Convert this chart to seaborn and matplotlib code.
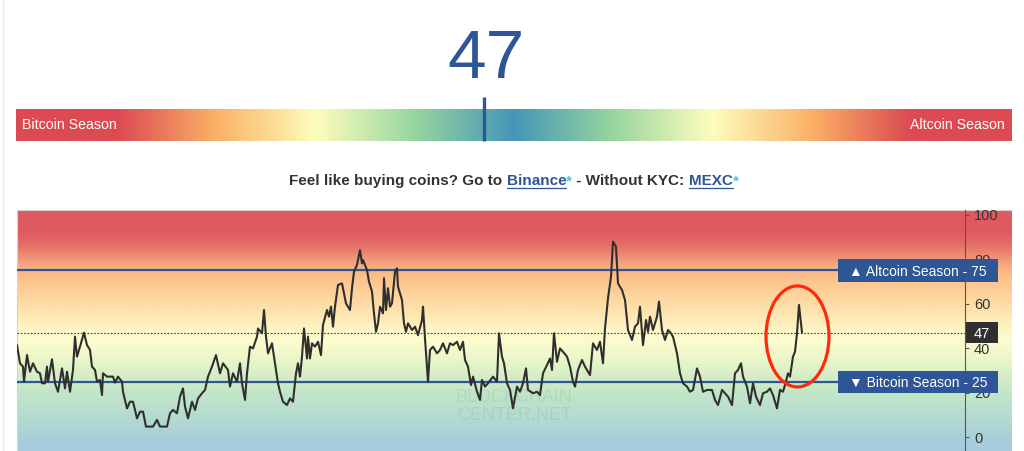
import numpy as np
import pandas as pd
import matplotlib
matplotlib.use("Agg")
import matplotlib.pyplot as plt
import seaborn as sns
from matplotlib.colors import to_rgb, LinearSegmentedColormap
from matplotlib.patches import Ellipse, Rectangle
from matplotlib.lines import Line2D
import matplotlib.transforms as mtransforms

# ---------------- data ----------------
days = [0, 3, 6, 7, 10, 13, 16, 20, 23, 25, 28, 30, 31, 35, 38, 41, 45, 48, 50, 53,
        56, 58, 60, 63, 67, 70, 73, 75, 78, 80, 83, 85, 86, 90, 96, 98, 101, 105, 106, 110,
        113, 116, 120, 123, 126, 129, 136, 140, 143, 150, 153, 156, 160, 163, 166, 168, 171, 175, 178, 181,
        185, 188, 191, 195, 199, 203, 206, 211, 213, 216, 220, 223, 225, 228, 230, 233, 236, 240, 241, 245,
        247, 249, 251, 255, 256, 258, 261, 263, 266, 270, 273, 276, 279, 281, 283, 285, 287, 290, 291, 293,
        295, 298, 301, 304, 306, 310, 312, 314, 316, 318, 321, 325, 326, 329, 333, 335, 337, 340, 343, 345,
        346, 350, 352, 355, 357, 359, 361, 363, 366, 367, 369, 371, 373, 375, 378, 380, 381, 385, 387, 389,
        391, 395, 398, 401, 405, 406, 408, 411, 413, 416, 420, 423, 426, 430, 433, 436, 440, 443, 446, 448,
        451, 454, 456, 460, 463, 465, 468, 471, 476, 480, 482, 485, 487, 490, 493, 496, 500, 503, 506, 509,
        511, 516, 520, 523, 526, 530, 533, 535, 537, 540, 543, 546, 550, 553, 556, 558, 561, 565, 568, 571,
        573, 576, 580, 583, 586, 588, 591, 594, 596, 599, 601, 605, 608, 610, 611, 615, 618, 621, 623, 626,
        629, 631, 633, 636, 640, 642, 645, 648, 651, 654, 656, 660, 663, 666, 670, 673, 676, 680, 683, 686,
        690, 695, 698, 701, 705, 708, 711, 715, 718, 721, 724, 726, 730, 733, 736, 739, 743, 746, 750, 753,
        756, 760, 763, 766, 768, 771, 773, 776, 778, 780, 782, 784, 785]
index_values = [41.4, 33.2, 31.7, 24.9, 36.9, 29.4, 33.2, 29.4, 28.7, 24.2, 24.2, 31.7, 24.9, 35.0, 24.2, 20.4, 30.9, 21.9, 29.4, 20.4,
                30.2, 45.2, 36.2, 40.7, 47.0, 41.4, 39.2, 31.7, 30.2, 24.9, 25.7, 18.9, 28.7, 27.2, 27.2, 24.5, 27.2, 24.9, 20.4, 12.9,
                15.9, 15.9, 8.4, 11.4, 11.4, 4.7, 4.7, 7.7, 4.7, 4.7, 10.7, 12.2, 10.7, 18.2, 21.9, 13.7, 8.4, 15.9, 12.2, 17.4,
                19.7, 21.2, 27.2, 31.7, 36.9, 28.7, 33.2, 30.2, 22.7, 28.7, 24.9, 33.2, 24.2, 16.7, 28.7, 40.7, 39.9, 45.2, 48.9, 46.7,
                57.2, 45.2, 37.7, 42.2, 39.2, 33.2, 24.2, 20.4, 15.9, 14.4, 17.4, 15.9, 28.7, 33.2, 27.2, 36.2, 48.9, 35.4, 45.2, 35.4,
                42.2, 40.7, 42.9, 36.9, 50.5, 57.2, 54.2, 58.7, 49.7, 58.7, 68.5, 69.2, 67.0, 60.2, 57.2, 67.0, 74.5, 77.5, 84.2, 78.2,
                79.7, 75.2, 70.0, 65.5, 55.7, 47.4, 51.2, 58.7, 55.7, 71.5, 57.2, 67.0, 58.7, 60.2, 74.5, 76.0, 67.7, 61.7, 51.2, 47.4,
                51.2, 48.2, 49.7, 45.9, 52.7, 58.7, 44.4, 24.9, 39.2, 40.7, 37.7, 39.2, 42.2, 37.7, 42.2, 41.4, 42.9, 39.2, 42.9, 34.7,
                31.7, 23.4, 27.2, 20.4, 16.7, 25.7, 22.7, 24.2, 27.2, 24.9, 46.7, 36.2, 33.2, 24.2, 21.2, 12.9, 22.7, 20.4, 24.2, 30.9,
                21.2, 19.7, 20.4, 18.9, 28.7, 32.4, 35.4, 30.2, 46.7, 33.9, 39.9, 38.4, 36.2, 31.7, 24.9, 22.7, 30.2, 34.7, 31.7, 29.4,
                27.9, 42.2, 39.2, 42.9, 33.2, 48.9, 62.5, 72.2, 88.0, 85.7, 69.2, 66.2, 61.7, 52.7, 48.2, 43.7, 49.7, 51.2, 58.7, 41.4,
                52.7, 47.4, 54.2, 48.2, 54.2, 61.0, 48.2, 43.7, 48.2, 46.7, 45.2, 37.7, 28.7, 24.2, 22.7, 20.4, 21.2, 30.9, 27.2, 20.4,
                21.2, 21.2, 16.7, 14.4, 21.2, 19.7, 18.2, 14.4, 28.7, 30.2, 33.2, 27.2, 22.7, 15.2, 24.2, 18.2, 14.4, 19.7, 20.4, 21.9,
                18.9, 12.9, 21.2, 20.4, 23.4, 28.7, 27.2, 36.2, 38.4, 46.7, 59.5, 51.2, 47.0]
current_value = 47
altcoin_threshold = 75
bitcoin_threshold = 25
y_ticks = [0, 20, 40, 60, 80, 100]
scale_labels = ["Bitcoin Season", "Altcoin Season"]
headline_parts = ["Feel like buying coins? Go to ", "Binance", "*", " - Without KYC: ", "MEXC", "*"]
watermark_lines = ["BLOCKCHAIN", "CENTER.NET"]

# ---------------- style ----------------
sns.set_theme(style="white")
plt.rcParams["font.family"] = ["Liberation Sans", "DejaVu Sans"]

BLUE = "#2E5596"
DARK = "#333333"
LIGHTBLUE = "#5BC0DE"

W, H = 1024, 451
fig = plt.figure(figsize=(W / 100, H / 100), dpi=100)
fig.patch.set_facecolor("white")


def fr(x0, y0, x1, y1):
    return [x0 / W, 1 - y1 / H, (x1 - x0) / W, (y1 - y0) / H]


# page border line
fig.add_artist(Line2D([3 / W, 3 / W], [0, 1], color="#ECECEC", lw=1))

# ---------------- big number ----------------
fig.text(486 / W, 1 - 78 / H, str(current_value), ha="center", va="baseline",
         fontsize=50, color=BLUE, family=["Liberation Sans Narrow", "Liberation Sans"])

# ---------------- top scale bar ----------------
axb = fig.add_axes(fr(16, 109, 1012, 141))
stops = [(0.0, "#DC4A52"), (0.1, "#DC4A52"), (0.2, "#FBB266"), (0.3, "#FDFDBD"),
         (0.4, "#97D59F"), (0.5, "#4596B8"), (0.6, "#97D59F"), (0.7, "#FDFDBD"),
         (0.8, "#FBB266"), (0.9, "#DC4A52"), (1.0, "#DC4A52")]
bar_cmap = LinearSegmentedColormap.from_list("bar", stops)
axb.imshow(np.linspace(0, 1, 600)[None, :], aspect="auto", cmap=bar_cmap,
           extent=[0, 100, 0, 1])
axb.set_xlim(0, 100)
axb.set_ylim(0, 1)
axb.axis("off")
axb.plot([current_value, current_value], [0, 1.36], color=BLUE, lw=2.4,
         clip_on=False, solid_capstyle="butt")
axb.text(0.65, 0.5, scale_labels[0], color="white", fontsize=10.2, va="center", ha="left")
axb.text(99.3, 0.5, scale_labels[1], color="white", fontsize=10.2, va="center", ha="right")

# ---------------- headline with links ----------------
renderer = fig.canvas.get_renderer()
fs = 11


def text_w(s):
    t1 = fig.text(0, 0, s + "|", fontsize=fs, fontweight="bold")
    t2 = fig.text(0, 0, "|", fontsize=fs, fontweight="bold")
    w = t1.get_window_extent(renderer).width - t2.get_window_extent(renderer).width
    t1.remove()
    t2.remove()
    return w


colors = [DARK, BLUE, LIGHTBLUE, DARK, BLUE, LIGHTBLUE]
widths = [text_w(p) for p in headline_parts]
total = sum(widths)
x = 514 - total / 2
base_y = 1 - 185 / H
for part, col, w in zip(headline_parts, colors, widths):
    fig.text(x / W, base_y, part, fontsize=fs, fontweight="bold", color=col,
             ha="left", va="baseline")
    if part in ("Binance", "MEXC"):
        fig.add_artist(Line2D([x / W, (x + w) / W], [1 - 188 / H, 1 - 188 / H],
                              color=BLUE, lw=0.9))
    x += w

# ---------------- chart ----------------
YMIN, YMAX = -6.3, 102.25
axg = fig.add_axes(fr(17, 210, 1012, 451))
bg_stops = [(-6.3, "#A6CCDC"), (0, "#AACFDA"), (10, "#B5DDCD"), (20, "#C3E6C8"),
            (28, "#D7EEC7"), (36, "#EEF7C9"), (43, "#FCFCCF"), (48, "#FDF6C6"),
            (56, "#FEE4AF"), (64, "#FED39C"), (72, "#FDC08A"), (76, "#F8B083"),
            (80, "#F0977B"), (86, "#E57068"), (92, "#E05B61"), (102.25, "#DF595F")]
vals = np.linspace(YMIN, YMAX, 500)
sv = [s[0] for s in bg_stops]
rgb = np.array([to_rgb(s[1]) for s in bg_stops])
img = np.stack([np.interp(vals, sv, rgb[:, i]) for i in range(3)], axis=-1)[:, None, :]
axg.imshow(img, aspect="auto", origin="lower", extent=[0, 1, YMIN, YMAX])
axg.set_xlim(0, 1)
axg.set_ylim(YMIN, YMAX)
axg.set_xticks([])
axg.set_yticks([])
for side in ["right", "bottom"]:
    axg.spines[side].set_visible(False)
for side in ["top", "left"]:
    axg.spines[side].set_color("#D3D3D3")
    axg.spines[side].set_linewidth(0.8)

ax = fig.add_axes(fr(17, 210, 965, 451))
ax.patch.set_alpha(0)
df = pd.DataFrame({"day": days, "index": index_values})

ax.axhline(altcoin_threshold, color=BLUE, lw=1.6, zorder=2)
ax.axhline(bitcoin_threshold, color=BLUE, lw=1.6, zorder=2)
ax.axhline(current_value, color="#444444", lw=0.8, ls=(0, (1.5, 1.5)), zorder=2)

sns.lineplot(data=df, x="day", y="index", ax=ax, color="#2F2F2F", lw=1.5,
             estimator=None, sort=False, zorder=3)

ax.add_patch(Ellipse((780.5, 45.3), width=63, height=45.5, fill=False,
                     edgecolor="#FF2A0A", lw=2.3, zorder=4))

ax.set_xlim(0, 948)
ax.set_ylim(YMIN, YMAX)
ax.set_xlabel("")
ax.set_ylabel("")
ax.set_xticks([])
ax.yaxis.tick_right()
ax.set_yticks(y_ticks)
ax.set_yticklabels([str(t) for t in y_ticks])
ax.tick_params(axis="y", direction="out", length=3, width=0.8, color="#555555",
               labelsize=10.5, labelcolor="#333333", pad=3.5, right=True, left=False)
for side in ["left", "top", "bottom"]:
    ax.spines[side].set_visible(False)
ax.spines["right"].set_color("#555555")
ax.spines["right"].set_linewidth(0.8)

# watermark
trans_ax = ax.transAxes
ax.text((514 - 17) / 948, (451 - 397) / 241, watermark_lines[0], transform=trans_ax,
        ha="center", va="center", fontsize=13, color="#5F7F7F", alpha=0.13, zorder=1)
ax.text((514 - 17) / 948, (451 - 415) / 241, watermark_lines[1], transform=trans_ax,
        ha="center", va="center", fontsize=13, color="#5F7F7F", alpha=0.13, zorder=1)

# right-side labels
blend = mtransforms.blended_transform_factory(ax.transAxes, ax.transData)
box_h = 22 / 2.22
x_box0 = (838 - 17) / 948
x_box1 = (998 - 17) / 948
x_val0 = (966 - 17) / 948
for val, label in [(altcoin_threshold, "\u25B2 Altcoin Season - %d" % altcoin_threshold),
                   (bitcoin_threshold, "\u25BC Bitcoin Season - %d" % bitcoin_threshold)]:
    ax.add_patch(Rectangle((x_box0, val - box_h / 2), x_box1 - x_box0, box_h,
                           transform=blend, facecolor=BLUE, edgecolor="none",
                           clip_on=False, zorder=6))
    ax.text((x_box0 + x_box1) / 2, val, label, transform=blend, color="white",
            fontsize=10, ha="center", va="center_baseline", zorder=7, clip_on=False,
            family=["Liberation Sans", "DejaVu Sans"])
ax.add_patch(Rectangle((x_val0, current_value - 21 / 2.22 / 2), x_box1 - x_val0, 21 / 2.22,
                       transform=blend, facecolor="#2F2F2F", edgecolor="none",
                       clip_on=False, zorder=6))
ax.text((x_val0 + x_box1) / 2, current_value, str(current_value), transform=blend,
        color="white", fontsize=10.5, ha="center", va="center_baseline", zorder=7,
        clip_on=False)

fig.savefig("out.png", dpi=100)
